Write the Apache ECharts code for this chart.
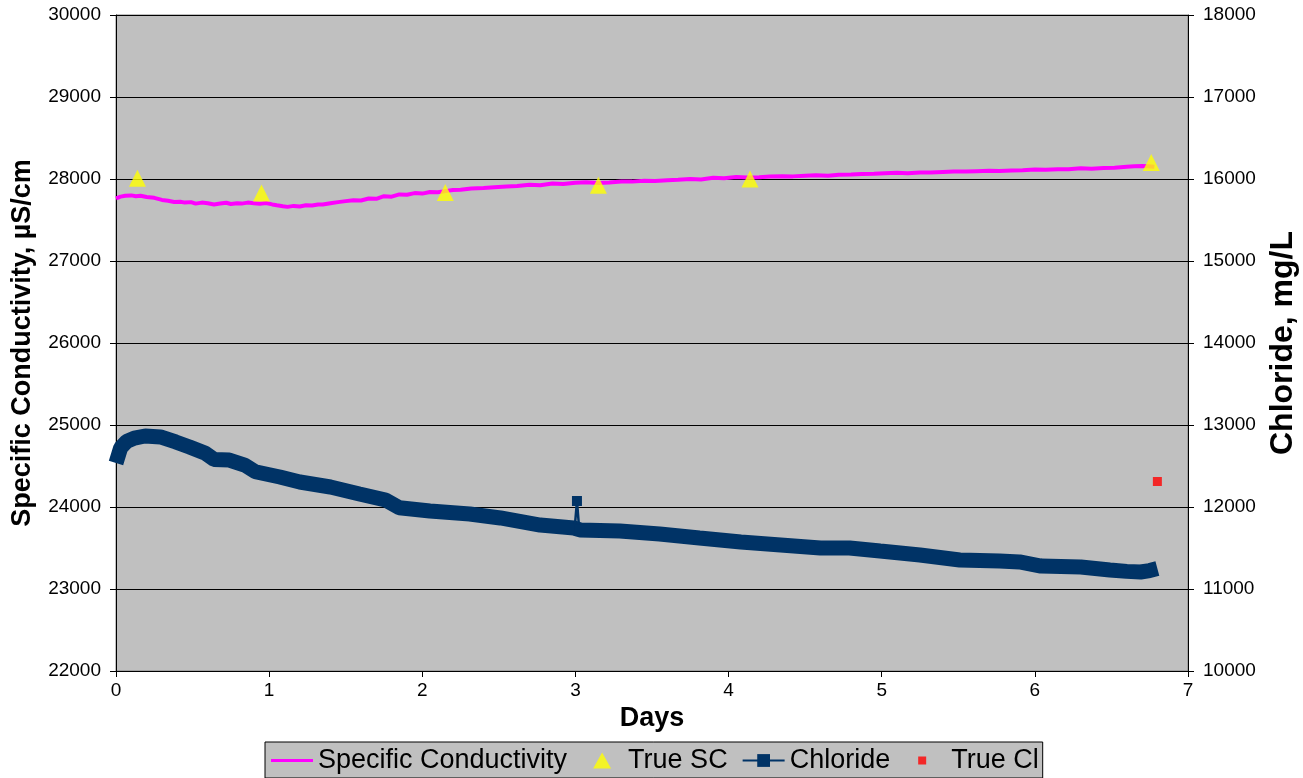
<!DOCTYPE html>
<html><head><meta charset="utf-8">
<script src="https://cdn.jsdelivr.net/npm/echarts@6/dist/echarts.min.js"></script>
<style>html,body{margin:0;padding:0;background:#fff}#c{width:1303px;height:778px}</style>
</head><body><div id="c"></div>
<script>
// Specific Conductivity (days, µS/cm)
const scDays = [0.00,0.03,0.06,0.10,0.13,0.16,0.20,0.25,0.30,0.34,0.38,0.42,0.45,0.49,0.52,0.56,0.60,0.64,0.68,0.72,0.75,0.79,0.82,0.86,0.90,0.94,0.98,1.02,1.05,1.09,1.12,1.16,1.20,1.24,1.28,1.32,1.35,1.40,1.45,1.50,1.55,1.60,1.65,1.70,1.75,1.80,1.85,1.90,1.95,2.00,2.05,2.10,2.15,2.20,2.25,2.32,2.40,2.47,2.55,2.62,2.70,2.77,2.85,2.92,3.00,3.07,3.15,3.22,3.30,3.37,3.45,3.52,3.60,3.67,3.75,3.82,3.90,3.97,4.05,4.12,4.20,4.27,4.35,4.42,4.50,4.57,4.65,4.72,4.80,4.87,4.95,5.02,5.10,5.17,5.25,5.32,5.40,5.47,5.55,5.62,5.70,5.77,5.85,5.92,6.00,6.07,6.15,6.22,6.30,6.37,6.45,6.52,6.60,6.65,6.70,6.74,6.78];
const scValues = [27765,27785,27795,27800,27790,27795,27780,27770,27745,27735,27720,27722,27712,27718,27700,27712,27705,27690,27700,27710,27695,27705,27700,27712,27705,27698,27708,27690,27680,27668,27660,27672,27665,27680,27676,27690,27688,27705,27718,27730,27742,27738,27762,27758,27790,27785,27812,27808,27828,27822,27842,27838,27852,27865,27868,27885,27890,27900,27910,27915,27930,27925,27945,27940,27955,27960,27950,27958,27970,27968,27980,27975,27985,27990,28000,27995,28015,28010,28025,28018,28020,28030,28035,28032,28040,28045,28040,28052,28055,28060,28065,28070,28075,28070,28080,28078,28085,28090,28090,28095,28100,28098,28105,28108,28115,28112,28120,28118,28130,28126,28135,28138,28150,28155,28160,28155,28150];
// True SC samples
const trueScDays = [0.14,0.95,2.15,3.15,4.14,6.76];
const trueScValues = [28010,27830,27835,27925,28000,28200];
// Chloride (days, mg/L)
const clDays = [0.00,0.03,0.07,0.12,0.19,0.29,0.39,0.48,0.58,0.64,0.74,0.84,0.91,1.07,1.20,1.40,1.59,1.76,1.85,2.05,2.31,2.51,2.77,2.99,3.03,3.29,3.55,3.81,4.08,4.34,4.60,4.79,4.99,5.25,5.51,5.77,5.90,6.04,6.30,6.49,6.60,6.69,6.75,6.80];
const clValues = [12537,12720,12800,12840,12866,12854,12793,12732,12659,12580,12573,12512,12430,12366,12305,12244,12159,12085,11990,11951,11915,11866,11780,11744,11720,11707,11671,11622,11573,11537,11500,11500,11463,11415,11354,11341,11330,11280,11268,11232,11215,11207,11225,11250];
// Chloride spike
const clSpikeDays = [2.995,3.01,3.025];
const clSpikeValues = [11740,12073,11725];
// True Cl sample
const trueClDays = [6.80];
const trueClValues = [12311];

const xTicks = [0,1,2,3,4,5,6,7];
const leftRange = [22000,30000];
const rightRange = [10000,18000];

const zip = (a,b)=>a.map((v,i)=>[v,b[i]]);
const font = '"Liberation Sans", Arial, sans-serif';
const plain = v => String(v);

// legend icons drawn in a 42x16 box (tiny corner specks fix the box size)
const box = 'M0,0 L0.01,0 L0.01,0.01 Z M42,16 L41.99,16 L41.99,15.99 Z ';
const iconLine = 'path://' + box + 'M0,6.5 L42,6.5 L42,9.5 L0,9.5 Z';
const iconTri = 'path://' + box + 'M21,0 L30,16 L12,16 Z';
const iconSq = 'path://' + box + 'M14,4 L22,4 L22,12 L14,12 Z';

const chart = echarts.init(document.getElementById('c'));
chart.setOption({
  animation:false,
  textStyle:{fontFamily:font,color:'#000'},
  grid:{left:116,right:115,top:15,bottom:107,containLabel:false,outerBoundsMode:'none',
        show:true,backgroundColor:'#c0c0c0',borderColor:'#808080',borderWidth:1},
  legend:{
    bottom:0, left:265,
    backgroundColor:'#c0c0c0', borderColor:'#000', borderWidth:1,
    padding:[5,4,4,6], itemGap:14, itemWidth:42, itemHeight:16,
    textStyle:{fontSize:27,fontFamily:font,color:'#000'},
    data:[
      {name:'Specific Conductivity', icon:iconLine},
      {name:'True SC', icon:iconTri},
      {name:'Chloride', lineStyle:{width:2}},
      {name:'True Cl', icon:iconSq}
    ]
  },
  xAxis:{type:'value',min:xTicks[0],max:xTicks[xTicks.length-1],interval:1,
    name:'Days',nameLocation:'middle',nameGap:34,nameTextStyle:{fontSize:27,fontWeight:'bold',color:'#000'},
    axisLine:{show:true,lineStyle:{color:'#000',width:1}},
    axisTick:{show:true,length:6,lineStyle:{color:'#000'}},
    axisLabel:{fontSize:19,color:'#000',margin:10,formatter:plain},
    splitLine:{show:false}},
  yAxis:[
    {type:'value',min:leftRange[0],max:leftRange[1],interval:1000,position:'left',
     name:'Specific Conductivity, µS/cm',nameLocation:'middle',nameRotate:90,nameGap:80,
     nameTextStyle:{fontSize:27,fontWeight:'bold',color:'#000'},
     axisLine:{show:true,lineStyle:{color:'#000'}},
     axisTick:{show:true,length:6,lineStyle:{color:'#000'}},
     axisLabel:{fontSize:19,color:'#000',margin:15,formatter:plain},
     splitLine:{show:true,lineStyle:{color:'#000',width:1}}},
    {type:'value',min:rightRange[0],max:rightRange[1],interval:1000,position:'right',
     name:'Chloride, mg/L',nameLocation:'middle',nameRotate:90,nameGap:78,
     nameTextStyle:{fontSize:32,fontWeight:'bold',color:'#000'},
     axisLine:{show:true,lineStyle:{color:'#000'}},
     axisTick:{show:true,length:6,lineStyle:{color:'#000'}},
     axisLabel:{fontSize:19,color:'#000',margin:15,formatter:plain},
     splitLine:{show:false}}
  ],
  series:[
    {name:'Specific Conductivity',type:'line',yAxisIndex:0,data:zip(scDays,scValues),
     showSymbol:false,symbol:'none',lineStyle:{color:'#ff00ff',width:4},itemStyle:{color:'#ff00ff'},z:3},
    {name:'True SC',type:'scatter',yAxisIndex:0,data:zip(trueScDays,trueScValues),
     symbol:'triangle',symbolSize:[17,17],itemStyle:{color:'#ffff00'},z:5},
    {name:'Chloride',type:'line',yAxisIndex:1,data:zip(clDays,clValues),
     symbol:'rect',symbolSize:10,showSymbol:false,lineStyle:{color:'#003366',width:15,cap:'butt',join:'bevel'},itemStyle:{color:'#003366'},z:3},
    {name:'Chloride',type:'line',yAxisIndex:1,data:zip(clSpikeDays,clSpikeValues),
     symbol:'rect',symbolSize:10,showSymbol:true,
     itemStyle:{color:'#003366'},lineStyle:{color:'#003366',width:2.5},z:4},
    {name:'True Cl',type:'scatter',yAxisIndex:1,data:zip(trueClDays,trueClValues),
     symbol:'rect',symbolSize:9,itemStyle:{color:'#ff0000'},z:5}
  ]
});
</script></body></html>
